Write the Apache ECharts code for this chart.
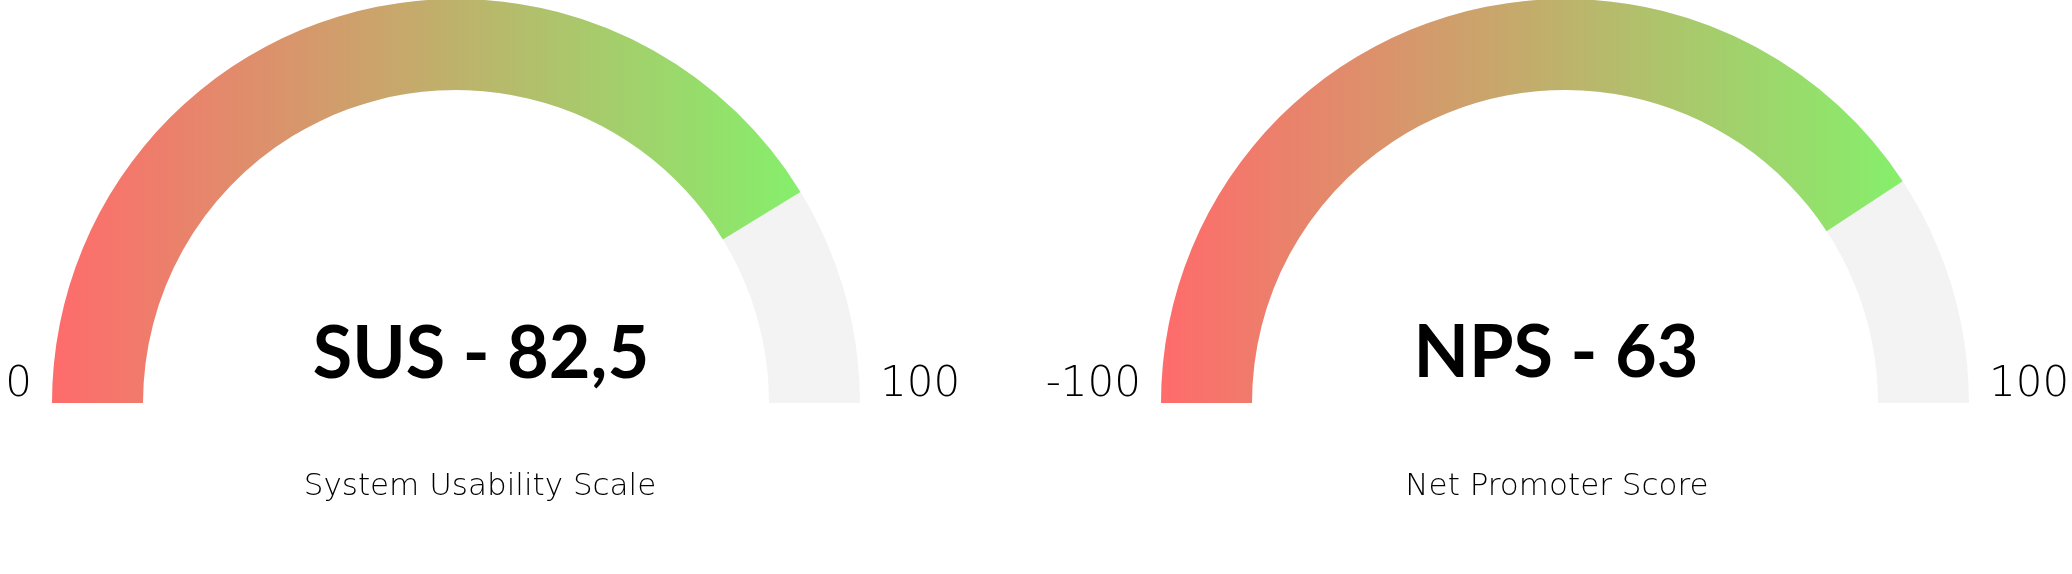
<!DOCTYPE html>
<html>
<head>
<meta charset="utf-8">
<script src="https://cdn.jsdelivr.net/npm/echarts@6/dist/echarts.min.js"></script>
<style>
  html, body { margin: 0; padding: 0; background: #fff; }
  #gauges { width: 2072px; height: 574px; }
</style>
</head>
<body>
<div id="gauges"></div>
<script>
// scores
var susValue = 82.5
var npsValue = 63
var susRange = [0, 100]
var npsRange = [-100, 100]
var susName = 'System Usability Scale'
var npsName = 'Net Promoter Score'

var chart = echarts.init(document.getElementById('gauges'))

var barColor = {
    type: 'linear', x: 0, y: 0, x2: 1, y2: 0,
    colorStops: [
        {offset: 0, color: '#ff6b6b'},
        {offset: 1, color: '#86ef6b'}
    ]
}

var thinFont = {fontSize: 42, fontFamily: 'DejaVu Sans', fontWeight: 200, color: '#000', padding: [0, 0, 36, 0]}

function gauge(center, range, value, name, prefix, detailOffset, titleOffset) {
    return {
        type: 'gauge',
        center: center,
        radius: 404,
        startAngle: 180,
        endAngle: 0,
        min: range[0],
        max: range[1],
        splitNumber: 1,
        progress: {
            show: true,
            width: 91,
            itemStyle: {color: barColor}
        },
        axisLine: {
            lineStyle: {width: 91, color: [[1, '#f3f3f3']]}
        },
        pointer: {show: false},
        anchor: {show: false},
        axisTick: {show: false, distance: 0, length: 0},
        splitLine: {show: false, distance: 0, length: 0},
        axisLabel: {
            distance: -128,
            color: '#000',
            formatter: function (v) {
                return (v === range[0] ? '{l|' : '{r|') + v + '}'
            },
            rich: {
                l: echarts.util.extend({width: 108, align: 'right'}, thinFont),
                r: echarts.util.extend({width: 108, align: 'left'}, thinFont)
            }
        },
        title: {
            offsetCenter: titleOffset,
            fontSize: 31,
            fontFamily: 'DejaVu Sans',
            fontWeight: 200,
            color: '#000'
        },
        detail: {
            offsetCenter: detailOffset,
            fontSize: 72,
            fontFamily: 'Lato',
            fontWeight: 'bold',
            color: '#000',
            formatter: function (v) {
                return prefix + ' - ' + String(v).replace('.', ',')
            }
        },
        data: [{value: value, name: name}]
    }
}

option = {
    animation: false,
    series: [
        gauge([456, 403], susRange, susValue, susName, 'SUS', [25, -48], [24, 84]),
        gauge([1565, 403], npsRange, npsValue, npsName, 'NPS', [-9, -49], [-8, 84])
    ]
}
chart.setOption(option)
</script>
</body>
</html>
